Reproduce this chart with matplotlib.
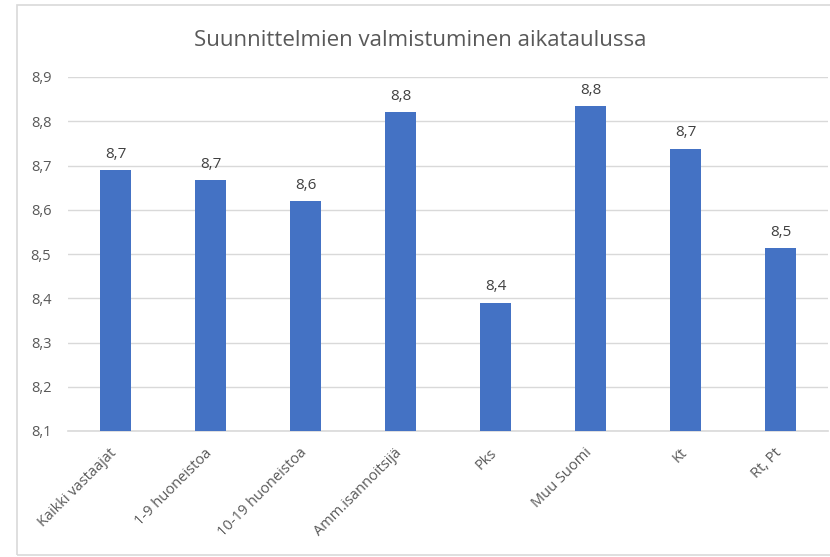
import matplotlib
matplotlib.use("Agg")
import matplotlib.pyplot as plt
from matplotlib.patches import Rectangle
from matplotlib.transforms import ScaledTranslation

categories = ["Kaikki vastaajat", "1-9 huoneistoa", "10-19 huoneistoa", "Amm.isannoitsijä",
              "Pks", "Muu Suomi", "Kt", "Rt, Pt"]
values = [8.69, 8.667, 8.62, 8.821, 8.39, 8.834, 8.738, 8.513]
yticks = [8.1, 8.2, 8.3, 8.4, 8.5, 8.6, 8.7, 8.8, 8.9]
title = "Suunnittelmien valmistuminen aikataulussa"

plt.rcParams['font.family'] = ['Open Sans', 'DejaVu Sans']
txt = "#595959"
grid = "#d9d9d9"

fig = plt.figure(figsize=(8.3, 5.57), dpi=100)
fig.patches.append(Rectangle((17/830, 2/557), 1.0, 550/557, transform=fig.transFigure,
                             fill=False, edgecolor=grid, linewidth=1.2))
ax = fig.add_axes([68/830, (557-431)/557, 760/830, (431-77)/557])

x = list(range(len(categories)))
ax.bar(x, values, width=0.32, color="#4472c4", zorder=3)
ax.set_xlim(-0.5, len(categories) - 0.5)
ax.set_ylim(8.1, 8.9)
ax.set_yticks(yticks)
ax.set_yticklabels([f"{v:.1f}".replace(".", ",") for v in yticks], color=txt, fontsize=10.5)
ax.tick_params(axis='y', length=0, pad=12)
ax.tick_params(axis='x', length=0, pad=9)
ax.set_xticks(x)
ax.set_xticklabels(categories, rotation=45, ha='right', va='top', rotation_mode='anchor',
                   color=txt, fontsize=10.5)
off = ScaledTranslation(-6/100, -2/100, fig.dpi_scale_trans)
for lab in ax.get_xticklabels():
    lab.set_transform(lab.get_transform() + off)
ax.grid(axis='y', color=grid, linewidth=1, zorder=0)
for s in ['top', 'right', 'left']:
    ax.spines[s].set_visible(False)
ax.spines['bottom'].set_color(grid)
ax.spines['bottom'].set_linewidth(1.2)

for xi, v in zip(x, values):
    ax.annotate(f"{v:.1f}".replace(".", ","), (xi, v), xytext=(0, 6), textcoords='offset points',
                ha='center', va='bottom', color="#404040", fontsize=11)

fig.text(420/830, 1 - 40/557, title, ha='center', va='center', color=txt, fontsize=16)
fig.savefig("out.png", dpi=100)
